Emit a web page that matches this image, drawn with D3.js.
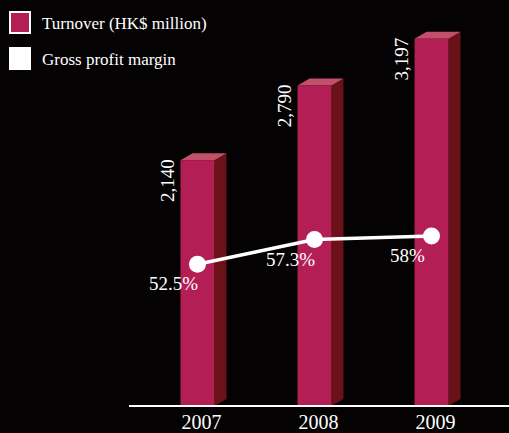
<!DOCTYPE html>
<html>
<head>
<meta charset="utf-8">
<script src="https://cdnjs.cloudflare.com/ajax/libs/d3/7.8.5/d3.min.js"></script>
<style>
  html, body { margin: 0; padding: 0; background: #050203; }
  svg { display: block; }
  text { font-family: "Liberation Serif", "Times New Roman", serif; fill: #ffffff; }
</style>
</head>
<body>
<svg id="chart" width="509" height="433"></svg>
<script>
// Turnover and gross profit margin by year
const years = ["2007", "2008", "2009"];
const turnover = [2140, 2790, 3197];          // HK$ million
const turnoverLabels = ["2,140", "2,790", "3,197"];
const margin = [52.5, 57.3, 58];              // %
const marginLabels = ["52.5%", "57.3%", "58%"];
const legendLabels = ["Turnover (HK$ million)", "Gross profit margin"];

const colors = {
  front: "#b31f55",
  side: "#6b1218",
  top: "#c1516b",
  line: "#ffffff",
  axis: "#ffffff"
};

const svg = d3.select("#chart");
const W = 509, H = 433;
const baseY = 406;
const depthX = 12, depthY = -7;

const x = d3.scaleBand().domain(years).range([122, 507]).paddingInner(0.71).paddingOuter(0.5);
const y = d3.scaleLinear().domain([0, 3200]).range([baseY, baseY - 367.6]);
const yM = d3.scaleLinear().domain([52.5, 58]).range([264.3, 236]);

// 3D bars: side face, top face, front face
const bars = svg.append("g").selectAll("g").data(years).join("g");

bars.append("path")
  .attr("fill", colors.side)
  .attr("d", (d, i) => {
    const x1 = x(d) + x.bandwidth(), yt = y(turnover[i]);
    return `M${x1},${baseY}L${x1 + depthX},${baseY + depthY}L${x1 + depthX},${yt + depthY}L${x1},${yt}Z`;
  });

bars.append("path")
  .attr("fill", colors.top)
  .attr("d", (d, i) => {
    const x0 = x(d), x1 = x0 + x.bandwidth(), yt = y(turnover[i]);
    return `M${x0},${yt}L${x0 + depthX},${yt + depthY}L${x1 + depthX},${yt + depthY}L${x1},${yt}Z`;
  });

bars.append("rect")
  .attr("fill", colors.front)
  .attr("x", d => x(d))
  .attr("width", x.bandwidth())
  .attr("y", (d, i) => y(turnover[i]))
  .attr("height", (d, i) => baseY - y(turnover[i]));

// Rotated value labels beside each bar
bars.append("text")
  .attr("transform", (d, i) => `translate(${x(d) - 7},${y(turnover[i]) - 1}) rotate(-90)`)
  .attr("text-anchor", "end")
  .attr("font-size", 19)
  .text((d, i) => turnoverLabels[i]);

// Baseline axis
const xAxis = d3.axisBottom(x).tickSize(0).tickPadding(10);
const axisG = svg.append("g").attr("transform", `translate(0,${baseY})`).call(xAxis);
axisG.select(".domain").remove();
axisG.selectAll("text")
  .attr("font-size", 20)
  .attr("font-family", "Liberation Serif, serif")
  .attr("fill", "#ffffff")
  .attr("dx", 4)
  .attr("dy", "0.65em");
svg.append("line")
  .attr("x1", 129).attr("x2", W)
  .attr("y1", baseY).attr("y2", baseY)
  .attr("stroke", colors.axis).attr("stroke-width", 2);

// Gross profit margin line
const cx = d => x(d) + x.bandwidth() / 2;
const line = d3.line().x((d, i) => cx(years[i])).y(d => yM(d));
svg.append("path")
  .datum(margin)
  .attr("fill", "none")
  .attr("stroke", colors.line)
  .attr("stroke-width", 3.5)
  .attr("d", line);

svg.append("g").selectAll("circle").data(margin).join("circle")
  .attr("cx", (d, i) => cx(years[i]))
  .attr("cy", d => yM(d))
  .attr("r", 8.5)
  .attr("fill", colors.line);

svg.append("g").selectAll("text").data(margin).join("text")
  .attr("x", (d, i) => cx(years[i]) - 24)
  .attr("y", d => yM(d) + 26)
  .attr("text-anchor", "middle")
  .attr("font-size", 19)
  .text((d, i) => marginLabels[i]);

// Legend
const legend = svg.append("g");
const swatches = [colors.front, "#ffffff"];
legendLabels.forEach((lab, i) => {
  const gy = 12 + i * 36;
  legend.append("rect")
    .attr("x", 10).attr("y", gy)
    .attr("width", 20).attr("height", 21)
    .attr("fill", swatches[i])
    .attr("stroke", "#ffffff").attr("stroke-width", 2);
  legend.append("text")
    .attr("x", 42).attr("y", gy + 17)
    .attr("font-size", 17)
    .text(lab);
});
</script>
</body>
</html>
